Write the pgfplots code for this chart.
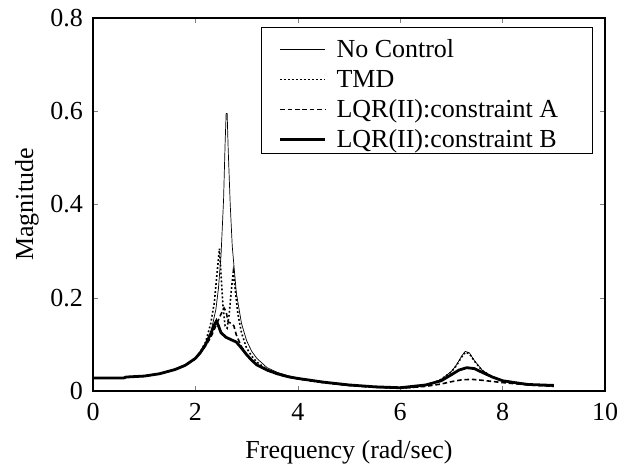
\documentclass[border=0pt]{standalone}
\usepackage{fontspec}
\setmainfont{Liberation Serif}
\usepackage{pgfplots}
\pgfplotsset{compat=1.18}
\newcommand{\lent}[1]{\raisebox{0pt}[13pt][0.5pt]{\makebox[128pt][l]{#1}}}
\begin{document}
\begin{tikzpicture}[font=\fontsize{13}{15}\selectfont]
\begin{axis}[
  at={(0,0)}, anchor=south west,
  scale only axis, width=256pt, height=186.5pt,
  xmin=0, xmax=10, ymin=0, ymax=0.8,
  xtick={0,2,4,6,8,10}, ytick={0,0.2,0.4,0.6,0.8},
  /pgf/number format/assume math mode=true,
  yticklabel style={/pgf/number format/fixed, xshift=-1.5pt},
  xticklabel style={yshift=-2.5pt},
  tick align=inside, major tick length=2.5pt,
  axis line style={line width=0.7pt},
  xlabel={Frequency (rad/sec)}, ylabel={Magnitude},
  xlabel style={yshift=-3pt}, ylabel style={yshift=-1pt},
  legend style={at={(0.9766,0.9759)}, anchor=north east, draw=black, line width=0.5pt,
    inner xsep=0pt, inner ysep=1.8pt, row sep=0.5pt, column sep=0pt,
    nodes={inner sep=0pt}, font=\fontsize{13}{15}\selectfont},
  legend cell align=left,
  legend image code/.code={\path (0pt,-3pt) (36pt,3pt); \draw[#1] (8.5pt,-1.95pt) -- (31pt,-1.95pt);},
]
\addplot[black, line width=0.35pt] coordinates {
(0,0.028)(0.6,0.028)(0.65,0.03)(1.0,0.032)(1.3,0.037)(1.6,0.046)(1.8,0.055)(2.0,0.068)
(2.1,0.08)(2.2,0.097)(2.3,0.125)(2.4,0.175)(2.45,0.22)(2.5,0.29)(2.55,0.41)(2.58,0.53)
(2.6,0.595)(2.62,0.595)(2.64,0.52)(2.68,0.4)(2.72,0.31)(2.8,0.21)(2.9,0.145)(3.0,0.108)
(3.1,0.085)(3.2,0.07)(3.4,0.05)(3.6,0.04)(3.8,0.033)(4.0,0.027)(4.5,0.019)(5.0,0.013)
(5.5,0.008)(6.0,0.006)(6.3,0.008)(6.6,0.015)(6.8,0.025)(7.0,0.042)(7.1,0.056)(7.2,0.075)
(7.27,0.085)(7.35,0.082)(7.45,0.065)(7.6,0.045)(7.8,0.03)(8.0,0.022)(8.5,0.014)(9.0,0.01)
};
\addlegendentry{\lent{No Control}}
\addplot[black, line width=0.8pt, dash pattern=on 0.9pt off 1.1pt] coordinates {
(0,0.028)(0.6,0.028)(0.65,0.03)(1.0,0.032)(1.3,0.037)(1.6,0.046)(1.8,0.055)(2.0,0.069)
(2.1,0.085)(2.2,0.105)(2.3,0.145)(2.37,0.19)(2.42,0.25)(2.47,0.305)(2.5,0.25)(2.54,0.18)
(2.58,0.14)(2.62,0.135)(2.66,0.165)(2.7,0.215)(2.74,0.255)(2.78,0.215)(2.83,0.165)
(2.9,0.125)(3.0,0.092)(3.1,0.075)(3.2,0.062)(3.4,0.046)(3.6,0.037)(3.8,0.031)(4.0,0.026)
(4.5,0.018)(5.0,0.012)(5.5,0.008)(6.0,0.006)(6.3,0.008)(6.6,0.015)(6.8,0.025)(7.0,0.041)
(7.1,0.055)(7.2,0.073)(7.27,0.083)(7.35,0.08)(7.45,0.064)(7.6,0.044)(7.8,0.03)(8.0,0.022)
(8.5,0.014)(9.0,0.01)
};
\addlegendentry{\lent{TMD}}
\addplot[black, line width=0.8pt, dash pattern=on 2.3pt off 1.4pt] coordinates {
(0,0.028)(0.6,0.028)(0.65,0.03)(1.0,0.032)(1.3,0.037)(1.6,0.046)(1.8,0.055)(2.0,0.07)
(2.1,0.082)(2.2,0.097)(2.3,0.115)(2.4,0.14)(2.5,0.165)(2.56,0.178)(2.6,0.17)(2.64,0.148)
(2.7,0.145)(2.75,0.14)(2.8,0.12)(2.9,0.095)(3.0,0.078)(3.1,0.065)(3.2,0.056)(3.4,0.044)
(3.6,0.036)(3.8,0.03)(4.0,0.026)(4.5,0.018)(5.0,0.012)(5.5,0.008)(6.0,0.006)(6.5,0.01)
(6.8,0.015)(7.0,0.02)(7.2,0.024)(7.4,0.025)(7.6,0.023)(8.0,0.018)(8.5,0.013)(9.0,0.01)
};
\addlegendentry{\lent{LQR(II):constraint A}}
\addplot[black, line width=1.4pt] coordinates {
(0,0.028)(0.6,0.028)(0.65,0.03)(1.0,0.032)(1.3,0.037)(1.6,0.046)(1.8,0.055)(2.0,0.07)
(2.1,0.083)(2.2,0.1)(2.3,0.123)(2.37,0.142)(2.41,0.15)(2.45,0.14)(2.5,0.125)(2.6,0.115)
(2.7,0.11)(2.8,0.105)(2.9,0.092)(3.0,0.078)(3.1,0.066)(3.2,0.056)(3.4,0.045)(3.6,0.037)
(3.8,0.031)(4.0,0.027)(4.5,0.019)(5.0,0.013)(5.5,0.009)(6.0,0.007)(6.5,0.013)(6.8,0.022)
(7.0,0.035)(7.15,0.045)(7.3,0.05)(7.45,0.048)(7.6,0.04)(7.8,0.03)(8.0,0.022)(8.3,0.017)
(8.5,0.014)(9.0,0.012)
};
\addlegendentry{\lent{LQR(II):constraint B}}
\end{axis}
\pgfresetboundingbox
\path[use as bounding box] (-46.5pt,-37.5pt) rectangle (271pt,195.5pt);
\end{tikzpicture}
\end{document}
